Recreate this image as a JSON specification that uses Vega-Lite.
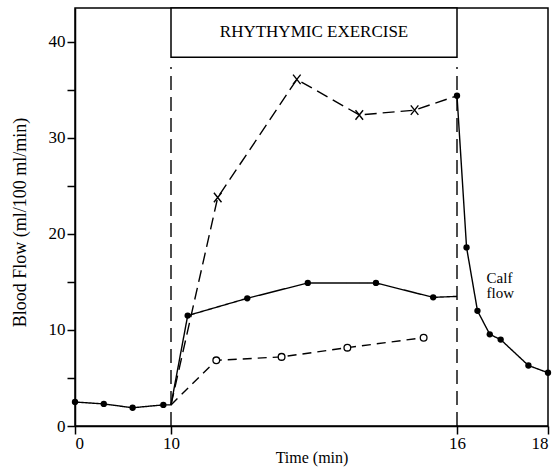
{
  "$schema": "https://vega.github.io/schema/vega-lite/v6.json",
  "width": 473,
  "height": 418,
  "autosize": {"type": "none"},
  "padding": {"left": 75, "top": 8, "right": 8, "bottom": 42},
  "background": "white",
  "config": {
    "font": "Liberation Serif",
    "view": {"stroke": "black", "strokeWidth": 1.5},
    "axis": {
      "domainColor": "black",
      "domainWidth": 1.5,
      "tickColor": "black",
      "tickWidth": 1.5,
      "tickSize": 8,
      "labelColor": "black",
      "labelFontSize": 17,
      "labelFont": "Liberation Serif",
      "titleColor": "black",
      "titleFont": "Liberation Serif",
      "titleFontSize": 16,
      "titleFontWeight": "normal",
      "grid": false
    }
  },
  "datasets": {
    "flow": [
      {"series": "calf", "t": 0, "flow": 2.5, "measured": true},
      {"series": "calf", "t": 3, "flow": 2.3, "measured": true},
      {"series": "calf", "t": 6, "flow": 1.9, "measured": true},
      {"series": "calf", "t": 9.2, "flow": 2.2, "measured": true},
      {"series": "calf", "t": 10, "flow": 2.2, "measured": false},
      {"series": "calf", "t": 10.35, "flow": 11.5, "measured": true},
      {"series": "calf", "t": 11.6, "flow": 13.3, "measured": true},
      {"series": "calf", "t": 12.87, "flow": 14.9, "measured": true},
      {"series": "calf", "t": 14.3, "flow": 14.9, "measured": true},
      {"series": "calf", "t": 15.5, "flow": 13.4, "measured": true},
      {"series": "calf", "t": 16, "flow": 13.5, "measured": false},
      {"series": "calf recovery", "t": 16, "flow": 34.4, "measured": true},
      {"series": "calf recovery", "t": 16.21, "flow": 18.6, "measured": true},
      {"series": "calf recovery", "t": 16.45, "flow": 12.0, "measured": true},
      {"series": "calf recovery", "t": 16.72, "flow": 9.55, "measured": true},
      {"series": "calf recovery", "t": 16.96, "flow": 9.0, "measured": true},
      {"series": "calf recovery", "t": 17.57, "flow": 6.3, "measured": true},
      {"series": "calf recovery", "t": 18, "flow": 5.55, "measured": true},
      {"series": "cross", "t": 10, "flow": 2.2, "measured": false},
      {"series": "cross", "t": 10.98, "flow": 23.8, "measured": true},
      {"series": "cross", "t": 12.64, "flow": 36.1, "measured": true},
      {"series": "cross", "t": 13.95, "flow": 32.4, "measured": true},
      {"series": "cross", "t": 15.11, "flow": 32.9, "measured": true},
      {"series": "cross", "t": 16, "flow": 34.4, "measured": false},
      {"series": "circle", "t": 10, "flow": 2.2, "measured": false},
      {"series": "circle", "t": 10.95, "flow": 6.84, "measured": true},
      {"series": "circle", "t": 12.32, "flow": 7.2, "measured": true},
      {"series": "circle", "t": 13.7, "flow": 8.16, "measured": true},
      {"series": "circle", "t": 15.3, "flow": 9.2, "measured": true}
    ],
    "exercise": [{"label": "RHYTHYMIC EXERCISE", "start": 10, "end": 16}],
    "notes": [{"label": "Calf flow"}]
  },
  "layer": [
    {
      "data": {"name": "exercise"},
      "transform": [{"fold": ["start", "end"], "as": ["edge", "time"]}],
      "mark": {"type": "rule", "color": "black", "strokeWidth": 1.4, "strokeDash": [14, 7]},
      "encoding": {
        "x": {"field": "time", "type": "quantitative", "scale": {"domain": [0, 10, 16, 18], "range": [0, 96, 382, 473], "nice": false, "zero": false},
          "axis": {"values": [0, 10, 16, 18], "title": "Time (min)", "titlePadding": -2, "labelPadding": 1, "labelFont": "Liberation Serif", "titleFont": "Liberation Serif", "titleFontWeight": "normal"}},
        "y": {"datum": 0, "type": "quantitative", "scale": {"domain": [0, 43.54], "nice": false, "zero": false},
          "axis": {"values": [0, 5, 10, 15, 20, 25, 30, 35, 40], "labelExpr": "datum.value % 10 === 0 ? datum.label : ''", "title": "Blood Flow   (ml/100 ml/min)", "titlePadding": 19, "titleY": 214, "labelPadding": 2, "labelFont": "Liberation Serif", "titleFont": "Liberation Serif", "titleFontWeight": "normal", "titleFontSize": 18}},
        "y2": {"datum": 37.4}
      }
    },
    {
      "data": {"name": "exercise"},
      "mark": {"type": "rect", "fill": "white", "stroke": "black", "strokeWidth": 1.5},
      "encoding": {
        "x": {"field": "start", "type": "quantitative"},
        "x2": {"field": "end"},
        "y": {"datum": 38.4, "type": "quantitative"},
        "y2": {"datum": 43.54}
      }
    },
    {
      "data": {"name": "exercise"},
      "mark": {"type": "text", "fontSize": 17, "color": "black", "baseline": "middle", "align": "center", "font": "Liberation Serif"},
      "encoding": {
        "x": {"datum": 13, "type": "quantitative"},
        "y": {"datum": 41.0, "type": "quantitative"},
        "text": {"field": "label"}
      }
    },
    {
      "data": {"name": "flow"},
      "mark": {"type": "line", "color": "black", "strokeWidth": 1.4},
      "encoding": {
        "x": {"field": "t", "type": "quantitative"},
        "y": {"field": "flow", "type": "quantitative"},
        "detail": {"field": "series"},
        "strokeDash": {"field": "series", "type": "nominal", "legend": null,
          "scale": {"domain": ["calf", "calf recovery", "cross", "circle"], "range": [[1, 0], [1, 0], [12, 6], [9, 6]]}}
      }
    },
    {
      "data": {"name": "flow"},
      "transform": [{"filter": "datum.measured && (datum.series === 'calf' || datum.series === 'calf recovery')"}],
      "mark": {"type": "point", "filled": true, "color": "black", "size": 40, "opacity": 1},
      "encoding": {
        "x": {"field": "t", "type": "quantitative"},
        "y": {"field": "flow", "type": "quantitative"}
      }
    },
    {
      "data": {"name": "flow"},
      "transform": [{"filter": "datum.measured && datum.series === 'cross'"}],
      "mark": {"type": "point", "shape": "M-0.8,-1L0.8,1M-0.8,1L0.8,-1", "filled": false, "stroke": "black", "strokeWidth": 1.4, "size": 90, "opacity": 1},
      "encoding": {
        "x": {"field": "t", "type": "quantitative"},
        "y": {"field": "flow", "type": "quantitative"}
      }
    },
    {
      "data": {"name": "flow"},
      "transform": [{"filter": "datum.measured && datum.series === 'circle'"}],
      "mark": {"type": "point", "shape": "circle", "filled": false, "fill": "white", "stroke": "black", "strokeWidth": 1.3, "size": 45, "opacity": 1, "fillOpacity": 1},
      "encoding": {
        "x": {"field": "t", "type": "quantitative"},
        "y": {"field": "flow", "type": "quantitative"}
      }
    },
    {
      "data": {"name": "notes"},
      "mark": {"type": "text", "fontSize": 15, "color": "black", "align": "left", "baseline": "alphabetic", "lineBreak": " ", "lineHeight": 15, "font": "Liberation Serif"},
      "encoding": {
        "x": {"datum": 16.65, "type": "quantitative"},
        "y": {"datum": 14.9, "type": "quantitative"},
        "text": {"field": "label"}
      }
    }
  ]
}
